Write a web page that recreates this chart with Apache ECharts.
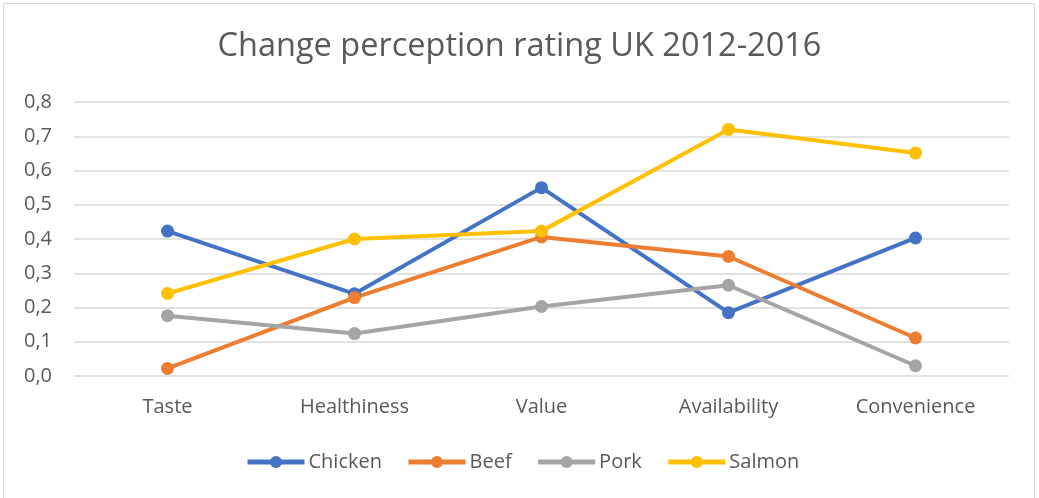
<!DOCTYPE html>
<html>
<head>
<meta charset="utf-8">
<script src="https://cdn.jsdelivr.net/npm/echarts@6/dist/echarts.min.js"></script>
<style>
  html, body { margin: 0; padding: 0; background: #fff; }
  #chart { width: 1039px; height: 498px; }
</style>
</head>
<body>
<div id="chart"></div>
<script>
var categories = ['Taste', 'Healthiness', 'Value', 'Availability', 'Convenience'];
var chicken = [0.423, 0.240, 0.550, 0.185, 0.403];
var beef = [0.022, 0.229, 0.406, 0.349, 0.111];
var pork = [0.176, 0.124, 0.203, 0.265, 0.030];
var salmon = [0.241, 0.400, 0.423, 0.720, 0.651];
var yTicks = [0, 0.8, 0.1]; // min, max, step

var font = 'Open Sans';
var textColor = '#595959';

function lineSeries(name, data, color) {
    return {
        name: name,
        type: 'line',
        data: data,
        symbol: 'circle',
        symbolSize: 13,
        lineStyle: { width: 4, color: color },
        itemStyle: { color: color },
        emphasis: { disabled: true },
        animation: false
    };
}

var chart = echarts.init(document.getElementById('chart'));
chart.setOption({
    backgroundColor: '#fff',
    title: {
        text: 'Change perception rating UK 2012-2016',
        left: 'center',
        top: 25,
        textStyle: { fontFamily: font, fontSize: 32.5, fontWeight: 'normal', color: textColor }
    },
    graphic: [{
        type: 'rect',
        shape: { x: 3.5, y: 3.5, width: 1031, height: 510 },
        style: { fill: 'none', stroke: '#d9d9d9', lineWidth: 1 },
        silent: true
    }],
    grid: { left: 74, right: 30, top: 102, bottom: 122, containLabel: false },
    legend: {
        bottom: 21,
        left: 240,
        itemWidth: 57,
        itemHeight: 15,
        itemGap: 24,
        lineStyle: { width: 5 },
        textStyle: { fontFamily: font, fontSize: 20, color: textColor, padding: [0, 0, 0, -1] },
        data: ['Chicken', 'Beef', 'Pork', 'Salmon']
    },
    xAxis: {
        type: 'category',
        data: categories,
        boundaryGap: true,
        axisLine: { show: false },
        axisTick: { show: false },
        axisLabel: { fontFamily: font, fontSize: 20, color: textColor, margin: 21 }
    },
    yAxis: {
        type: 'value',
        min: yTicks[0],
        max: yTicks[1],
        interval: yTicks[2],
        axisLine: { show: false },
        axisTick: { show: false },
        splitLine: { lineStyle: { color: '#d9d9d9', width: 1.5 } },
        axisLabel: {
            fontFamily: font, fontSize: 20, color: textColor, margin: 22,
            formatter: function (v) { return v.toFixed(1).replace('.', ','); }
        }
    },
    series: [
        lineSeries('Chicken', chicken, '#4472c4'),
        lineSeries('Beef', beef, '#ed7d31'),
        lineSeries('Pork', pork, '#a5a5a5'),
        lineSeries('Salmon', salmon, '#ffc000')
    ]
});
</script>
</body>
</html>
